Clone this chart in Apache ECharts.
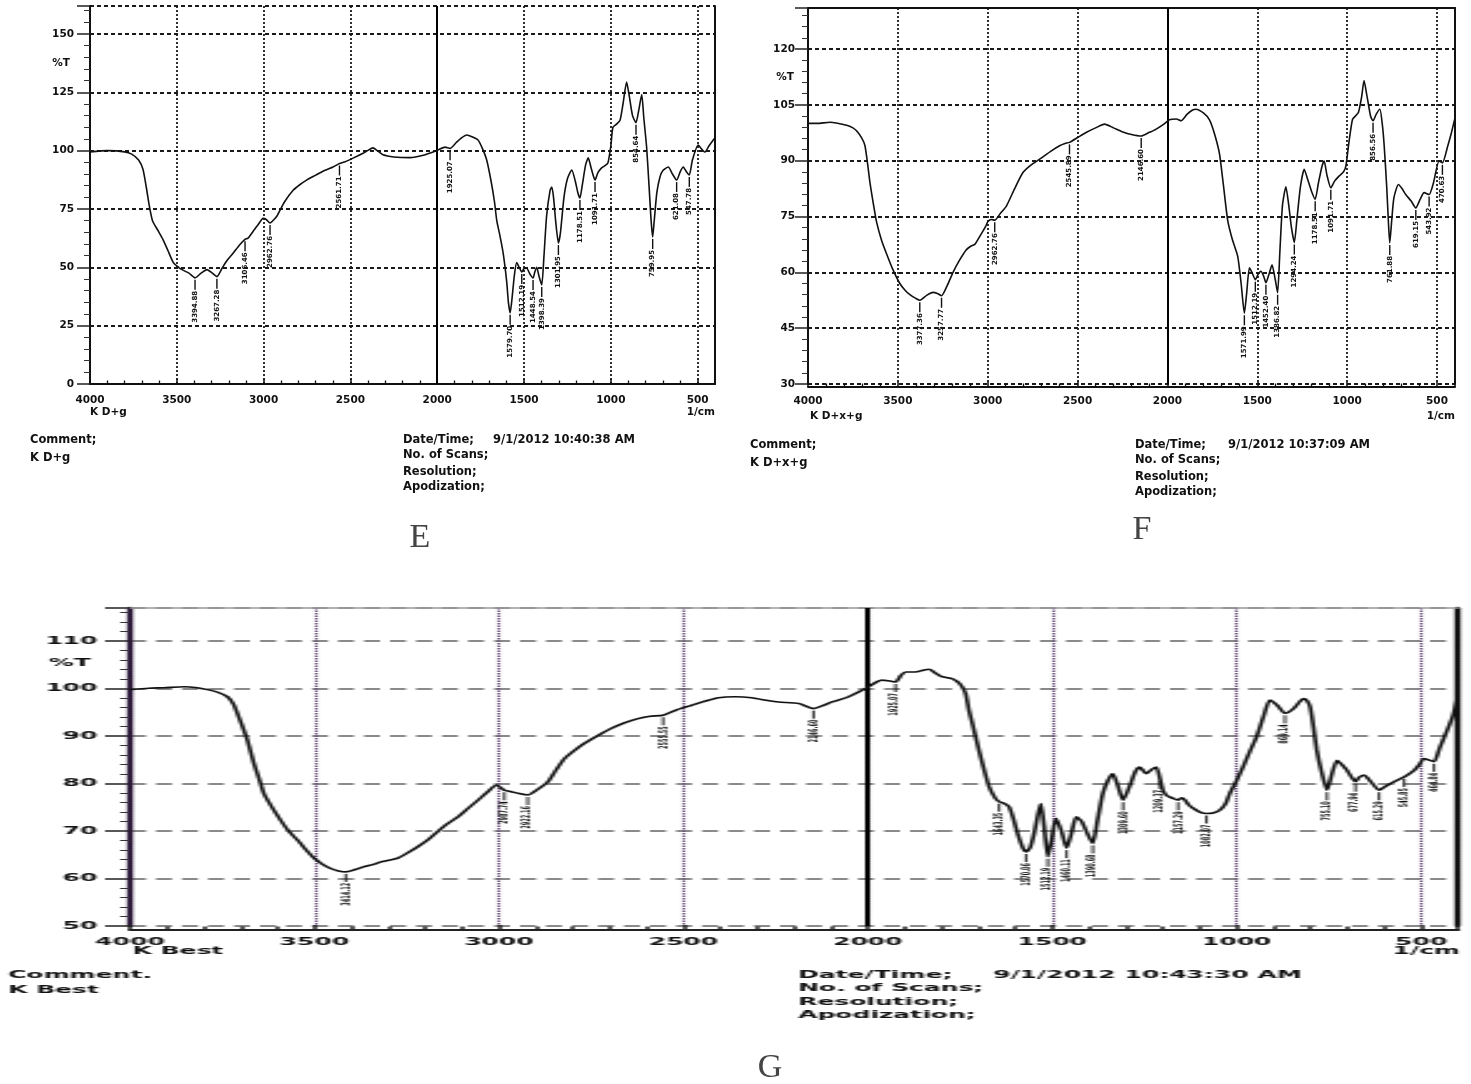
<!DOCTYPE html>
<html><head><meta charset="utf-8">
<script src="https://cdn.jsdelivr.net/npm/echarts@6/dist/echarts.min.js"></script>
<style>
html,body{margin:0;padding:0;background:#fff;}
#main{position:absolute;left:0;top:0;width:1471px;height:1084px;}
#g{position:absolute;left:0;top:590px;width:589px;height:494px;transform:scaleX(2.5);transform-origin:0 0;}
</style></head><body>
<div id="main"></div><div id="g"></div>
<script>
// ---------- data ----------
const xTickValues = [4000, 3500, 3000, 2500, 2000, 1500, 1000, 500];
const yTicksE = [0, 25, 50, 75, 100, 125, 150];
const yTicksF = [30, 45, 60, 75, 90, 105, 120];
const yTicksG = [50, 60, 70, 80, 90, 100, 110];
const breakValue = 2000;

const specE = [[4000,99.5],[3900,100],[3800,99.5],[3760,98.5],[3720,96],[3695,92],[3675,84],[3660,77],[3640,70],[3610,66],[3580,62],[3550,57],[3520,52],[3490,50],[3470,49],[3430,47.5],[3395,45.5],[3360,47.5],[3326,49],[3295,47.5],[3269,46],[3240,49.5],[3210,53],[3176,56],[3140,59.5],[3107,62],[3090,62.5],[3060,65.5],[3030,68.5],[3003,71],[2985,70.5],[2963,69],[2940,70.5],[2923,72],[2880,78],[2830,83],[2790,85.5],[2750,87.5],[2700,89.5],[2650,91.5],[2600,93],[2563,94.5],[2530,95.3],[2485,96.8],[2430,98.8],[2390,100.5],[2370,101.2],[2345,100],[2312,98.2],[2250,97.3],[2157,97],[2080,98],[2013,99.7],[1990,100.5],[1955,101.5],[1926,101],[1890,103.5],[1860,105.5],[1830,106.7],[1800,106],[1765,104.6],[1740,101],[1715,96],[1690,87],[1670,78],[1657,70],[1640,64],[1620,56],[1600,44],[1590,35],[1580,30.5],[1570,36],[1555,47],[1542,52],[1528,50],[1513,48],[1500,49.5],[1485,49.6],[1465,47],[1448,45.4],[1438,48],[1427,50],[1413,46],[1398,42.4],[1385,55],[1370,72],[1350,83],[1340,84.4],[1330,80],[1318,70],[1302,60.4],[1290,65],[1270,80],[1250,88],[1225,91.7],[1205,87],[1190,82],[1178,79.7],[1165,85],[1145,94],[1130,96.9],[1115,93],[1100,89],[1091,87.4],[1075,90.5],[1053,92.6],[1035,93.5],[1017,94.7],[1000,102],[988,110],[965,111.5],[947,113],[930,120],[909,129.4],[895,124],[875,115],[855,112],[840,117],[822,124],[810,114],[794,101.6],[780,85],[768,70],[759,63],[750,70],[735,82],[717,88.7],[700,91.5],[669,93],[645,90],[621,87.4],[600,91],[583,93],[565,91],[548,89.6],[530,96],[497,102.4],[475,100.5],[459,99.4],[435,102],[410,104.6],[400,105.5]];

const specF = [[4000,100],[3950,100],[3878,100.3],[3785,99.5],[3750,98.8],[3730,98],[3700,96],[3683,94],[3668,89],[3655,84],[3635,78],[3618,73.4],[3590,68.5],[3563,65],[3530,61],[3489,57],[3460,55.2],[3433,54],[3400,53],[3378,52.5],[3340,53.8],[3305,54.6],[3280,54.3],[3257,53.7],[3225,56.5],[3193,60],[3160,63],[3120,66],[3095,67],[3072,67.5],[3040,70],[3010,72.5],[2998,73.7],[2980,74.2],[2961,74],[2930,75.8],[2896,77.8],[2850,82.5],[2804,86.8],[2760,88.8],[2711,90.4],[2650,92.5],[2600,94],[2570,94.6],[2545,94.9],[2500,96.2],[2455,97.5],[2400,98.8],[2350,99.8],[2300,98.8],[2248,97.7],[2200,97],[2146,96.6],[2100,97.6],[2065,98.4],[2020,99.8],[1989,101],[1950,101.2],[1924,100.7],[1890,102.5],[1860,103.6],[1841,103.8],[1800,102.8],[1767,101],[1740,97.5],[1711,92],[1690,84],[1665,74],[1640,69],[1609,64.3],[1590,57],[1572,49],[1560,54],[1544,61.2],[1530,60],[1511,58],[1495,59.5],[1480,60.3],[1465,59],[1452,57.2],[1435,59.5],[1418,62],[1400,58],[1387,54.5],[1375,65],[1360,78],[1341,83],[1325,78],[1310,72],[1294,68],[1280,74],[1260,83],[1239,87.7],[1220,85],[1200,82],[1178,79.6],[1160,84],[1140,88.5],[1128,89.9],[1112,86],[1091,82.7],[1070,84.5],[1044,85.9],[1020,87],[1007,88.6],[990,95],[970,101.1],[950,102.2],[937,103],[920,107],[906,111.5],[892,108],[870,102],[856,100.7],[838,102.5],[818,103.8],[805,100],[794,94],[780,83],[770,73],[763,67.9],[752,74],[740,80],[715,83.6],[695,82.5],[674,80.9],[645,79.2],[618,77.3],[595,79.5],[572,81.4],[544,80.9],[520,84],[489,89.9],[470,89.4],[440,94],[420,97.5],[400,101.5]];

const specG = [[4000,99.8],[3950,100.1],[3908,100.2],[3854,100.4],[3818,100.2],[3790,99.8],[3764,99.3],[3736,98.3],[3720,96.8],[3709,94.8],[3695,92],[3682,89.2],[3664,84.2],[3650,81],[3637,77.9],[3615,75],[3592,72.3],[3570,70],[3546,68.1],[3520,65.8],[3501,64.3],[3480,63.1],[3456,62.1],[3435,61.6],[3415,61.4],[3390,61.9],[3365,62.5],[3340,63],[3320,63.5],[3295,63.9],[3274,64.3],[3250,65.3],[3220,66.7],[3190,68.3],[3166,69.9],[3140,71.5],[3111,73],[3085,74.7],[3057,76.5],[3030,78.3],[3007,79.7],[2985,78.6],[2967,78.3],[2945,77.9],[2922,77.6],[2895,78.8],[2867,80.4],[2845,82.9],[2822,85.3],[2795,87],[2768,88.5],[2730,90.2],[2696,91.6],[2660,92.8],[2623,93.7],[2590,94.2],[2555,94.4],[2520,95.5],[2478,96.5],[2440,97.4],[2405,98.1],[2360,98.3],[2315,98.1],[2280,97.6],[2242,97.2],[2188,96.9],[2147,95.8],[2120,96.5],[2097,97.2],[2052,98.3],[2007,100],[1962,101.8],[1940,101.6],[1925,101.4],[1910,102.8],[1898,103.5],[1871,103.5],[1850,103.9],[1834,104.1],[1815,103.2],[1802,102.6],[1771,102.1],[1750,101],[1735,99],[1726,95.5],[1716,92.5],[1699,87.1],[1685,83],[1671,79.3],[1655,77],[1644,76.2],[1630,75.8],[1617,75.1],[1605,72.5],[1594,69.5],[1580,66.5],[1571,65.6],[1560,66.5],[1549,69.5],[1540,73],[1531,75.8],[1522,71],[1512,64.6],[1502,68],[1490,72.7],[1475,70],[1461,66.4],[1448,69.5],[1435,73],[1420,72],[1405,69.5],[1390,67.4],[1378,72],[1363,77.9],[1350,80.5],[1336,82.1],[1322,79.5],[1308,76.5],[1290,79.5],[1275,82.5],[1263,83.5],[1245,82.1],[1230,83],[1218,83.5],[1208,81],[1200,78.6],[1190,77.5],[1182,77.2],[1170,76.8],[1159,76.5],[1150,77],[1141,76.6],[1130,75.5],[1118,74.8],[1100,74],[1082,73.7],[1064,73.8],[1046,74.4],[1030,75.8],[1019,77.9],[1000,80.7],[983,83.5],[965,86.7],[946,89.9],[928,94],[910,97.6],[890,96.5],[869,94.8],[846,95.8],[830,97.2],[819,97.9],[810,97.5],[801,96.2],[792,92],[783,87.1],[770,82.5],[755,78.6],[742,82],[728,84.9],[715,84],[701,82.8],[690,81.5],[678,80.4],[668,81.3],[655,81.8],[635,80.3],[614,78.6],[595,79.5],[573,80.4],[546,81.4],[519,82.8],[505,84],[492,85.3],[480,85],[465,84.6],[450,87.5],[429,91.3],[413,94.5],[400,98.5]];

const peaksE = [[3395,45.5,'3394.88'],[3269,46,'3267.28'],[3107,62,'3106.46'],[2963,69,'2962.76'],[2563,94.5,'2561.71'],[1926,101,'1925.07'],[1580,30.5,'1579.70'],[1513,48,'1512.19'],[1448,45.4,'1448.54'],[1398,42.4,'1398.39'],[1302,60.4,'1301.95'],[1178,79.7,'1178.51'],[1091,87.4,'1091.71'],[855,112,'854.64'],[759,63,'759.95'],[621,87.4,'621.08'],[548,89.6,'547.78']];
const peaksF = [[3378,52.5,'3377.36'],[3257,53.7,'3257.77'],[2961,74,'2962.76'],[2545,94.9,'2545.89'],[2146,96.6,'2146.60'],[1572,49,'1571.99'],[1511,58,'1512.19'],[1452,57.2,'1452.40'],[1387,54.5,'1386.82'],[1294,68,'1294.24'],[1178,79.6,'1178.51'],[1091,82.7,'1091.71'],[856,100.7,'856.56'],[763,67.9,'761.88'],[618,77.3,'619.15'],[544,80.9,'543.92'],[470,89.4,'470.63']];
const peaksG = [[3415,61.4,'3414.12'],[2985,78.6,'2987.74'],[2922,77.6,'2922.16'],[2555,94.4,'2555.55'],[2147,95.8,'2146.60'],[1925,101.4,'1925.07'],[1644,76.2,'1643.35'],[1571,65.6,'1570.06'],[1512,64.6,'1512.19'],[1461,66.4,'1460.11'],[1390,67.4,'1390.68'],[1308,76.5,'1309.60'],[1208,81,'1209.37'],[1159,76.5,'1157.29'],[1082,73.7,'1082.07'],[869,94.8,'869.14'],[755,78.6,'755.10'],[678,80.4,'677.94'],[614,78.6,'615.29'],[546,81.4,'545.85'],[465,84.6,'464.84']];

const textE = {sample:'K D+g', date:'9/1/2012 10:40:38 AM', caption:'E'};
const textF = {sample:'K D+x+g', date:'9/1/2012 10:37:09 AM', caption:'F'};
const textG = {sample:'K Best', date:'9/1/2012 10:43:30 AM', caption:'G'};

// ---------- helpers ----------
const FONT = '"DejaVu Sans", "Liberation Sans", sans-serif';
const tickFmt = arr => v => (arr.indexOf(v) >= 0 ? String(v) : '');

function panelAxes(gi, ymin, ymax, yint, yTicks, o) {
  const xa = {
    gridIndex: gi, type: 'value', min: 400, max: 4000, inverse: true,
    splitNumber: 7, minInterval: 500, maxInterval: 500, offset: o.xOffset,
    axisLine: {show: true, lineStyle: {color: o.axisColor, width: 2}},
    axisTick: {show: true, inside: true, length: 5, lineStyle: {color: o.axisColor, width: 1.5}},
    minorTick: {show: true, splitNumber: 5, length: 3.5, lineStyle: {color: o.axisColor, width: o.minorW}},
    axisLabel: {margin: o.xMargin, fontSize: o.fs, fontWeight: 'bold', fontFamily: FONT, color: '#111',
      showMinLabel: false, showMaxLabel: true, formatter: tickFmt(xTickValues)},
    splitLine: {show: true, lineStyle: o.vLine}
  };
  const xTop = {
    gridIndex: gi, type: 'value', position: 'top', min: 400, max: 4000, inverse: true,
    axisLine: {show: true, lineStyle: {color: o.topColor, width: o.topW}},
    axisTick: {show: false}, axisLabel: {show: false}, splitLine: {show: false}
  };
  const ya = {
    gridIndex: gi, type: 'value', min: ymin, max: ymax, interval: yint,
    axisLine: {show: true, lineStyle: {color: o.leftColor, width: o.leftW}},
    axisTick: {show: true, inside: false, length: o.yTickLen, lineStyle: {color: '#222', width: 1.5}},
    minorTick: {show: true, splitNumber: 5, length: o.yMinorLen, lineStyle: {color: '#333', width: 1}},
    axisLabel: {margin: o.yMargin, fontSize: o.fs, fontWeight: 'bold', fontFamily: FONT, color: '#111',
      showMaxLabel: false, formatter: tickFmt(yTicks)},
    splitLine: {show: true, lineStyle: o.hLine}
  };
  const yRight = {
    gridIndex: gi, type: 'value', position: 'right', min: ymin, max: ymax,
    axisLine: {show: true, lineStyle: {color: '#111', width: o.rightW}},
    axisTick: {show: false}, axisLabel: {show: false}, splitLine: {show: false}
  };
  return {xa, xTop, ya, yRight};
}

function curveSeries(xi, yi, data, lw, breakW) {
  return {
    type: 'line', xAxisIndex: xi, yAxisIndex: yi, data: data, showSymbol: false,
    smooth: 0.2, lineStyle: {color: '#111', width: lw}, silent: true, z: 5,
    markLine: {symbol: 'none', silent: true, label: {show: false},
      lineStyle: {color: '#000', width: breakW, type: 'solid'}, data: [{xAxis: breakValue}]}
  };
}
// peak markers: a short leader below the trough and the rotated wavenumber label
function peakSeries(xi, yi, peaks, fs, lw, gap, len) {
  const font = 'bold ' + fs + 'px ' + FONT;
  return {
    type: 'custom', xAxisIndex: xi, yAxisIndex: yi, silent: true, z: 6, clip: false,
    data: peaks.map(p => [p[0], p[1]]),
    renderItem: function (params, api) {
      const pt = api.coord([api.value(0), api.value(1)]);
      const lab = peaks[params.dataIndex][2];
      return {type: 'group', children: [
        {type: 'line', shape: {x1: pt[0], y1: pt[1] + gap, x2: pt[0], y2: pt[1] + gap + len},
          style: {stroke: '#111', lineWidth: lw}},
        {type: 'text', x: pt[0], y: pt[1] + gap + len + 1, rotation: Math.PI / 2,
          style: {text: lab, font: font, fill: '#111', align: 'right', verticalAlign: 'middle'}}
      ]};
    }
  };
}
function txt(x, y, s, font, align, fill) {
  return {type: 'text', x: x, y: y, silent: true,
    style: {text: s, font: font, fill: fill || '#111', align: align || 'left', verticalAlign: 'middle'}};
}

// ---------- main chart (E, F) ----------
const main = echarts.init(document.getElementById('main'), null, {renderer: 'canvas'});
const efOpt = {
  xOffset: 3, axisColor: '#111', minorW: 1.3, xMargin: 8, fs: 10.5,
  vLine: {color: '#1a1a1a', width: 1.8, type: [2, 2]},
  hLine: {color: '#1a1a1a', width: 2.2, type: [4, 3]},
  topColor: '#111', topW: 2, leftColor: '#111', leftW: 2, rightW: 2,
  yTickLen: 13, yMinorLen: 6, yMargin: 16
};
const aE = panelAxes(0, 0, 162, 25, yTicksE, efOpt);
const aF = panelAxes(1, 30, 131, 15, yTicksF, Object.assign({}, efOpt, {xMargin: 9, yMargin: 13}));

const F11 = 'bold 11.5px ' + FONT;
const F10 = 'bold 10.5px ' + FONT;
const SERIF = '34px "Liberation Serif", "DejaVu Serif", serif';

main.setOption({
  animation: false,
  backgroundColor: '#fff',
  grid: [
    {left: 90, top: 6, width: 625, height: 378},
    {left: 808, top: 8, width: 647, height: 376}
  ],
  xAxis: [aE.xa, aE.xTop, aF.xa, aF.xTop],
  yAxis: [aE.ya, aE.yRight, aF.ya, aF.yRight],
  series: [
    curveSeries(0, 0, specE, 1.6, 2),
    peakSeries(0, 0, peaksE, 7, 1.4, 2, 10),
    curveSeries(2, 2, specF, 1.6, 2),
    peakSeries(2, 2, peaksF, 7, 1.4, 2, 10)
  ],
  graphic: [
    txt(61, 63, '%T', F10, 'center'),
    txt(90, 412, textE.sample, F10),
    txt(715, 412, '1/cm', F10, 'right'),
    txt(30, 440, 'Comment;', F11),
    txt(30, 458, textE.sample, F11),
    txt(403, 440, 'Date/Time;', F11),
    txt(493, 440, textE.date, F11),
    txt(403, 455, 'No. of Scans;', F11),
    txt(403, 472, 'Resolution;', F11),
    txt(403, 487, 'Apodization;', F11),
    txt(420, 538, textE.caption, SERIF, 'center', '#444'),

    txt(785, 77, '%T', F10, 'center'),
    txt(810, 416, textF.sample, F10),
    txt(1455, 416, '1/cm', F10, 'right'),
    txt(750, 445, 'Comment;', F11),
    txt(750, 463, textF.sample, F11),
    txt(1135, 445, 'Date/Time;', F11),
    txt(1228, 445, textF.date, F11),
    txt(1135, 460, 'No. of Scans;', F11),
    txt(1135, 477, 'Resolution;', F11),
    txt(1135, 492, 'Apodization;', F11),
    txt(1142, 530, textF.caption, SERIF, 'center', '#444'),

    txt(770, 1068, textG.caption, SERIF, 'center', '#444')
  ]
});

// ---------- G chart (drawn in a horizontally stretched box) ----------
const gc = echarts.init(document.getElementById('g'), null, {renderer: 'canvas'});
const gOpt = {
  xOffset: 4, axisColor: '#222', minorW: 1.5, xMargin: 7, fs: 10,
  vLine: {color: '#6b4f7d', width: 1.2, type: [1.5, 1]},
  hLine: {color: '#8a8a8a', width: 2.2, type: [6.4, 4]},
  topColor: '#9a9a9a', topW: 1.5, leftColor: '#2d1a3b', leftW: 2.4, rightW: 2.4,
  yTickLen: 10, yMinorLen: 4, yMargin: 13
};
const aG = panelAxes(0, 50, 117, 10, yTicksG, gOpt);
const FG = 'bold 10px ' + FONT;
gc.setOption({
  animation: false,
  grid: [{left: 52, top: 18, width: 531.2, height: 318}],
  xAxis: [aG.xa, aG.xTop],
  yAxis: [aG.ya, aG.yRight],
  series: [
    curveSeries(0, 0, specG, 1.6, 2),
    peakSeries(0, 0, peaksG, 5, 0.9, 2, 8)
  ],
  graphic: [
    txt(28, 73, '%T', FG, 'center'),
    txt(53, 361, textG.sample, FG),
    txt(584, 361, '1/cm', FG, 'right'),
    txt(3.2, 385, 'Comment.', FG),
    txt(3.2, 400, textG.sample, FG),
    txt(319.2, 385, 'Date/Time;', FG),
    txt(397.2, 385, textG.date, FG),
    txt(319.2, 398, 'No. of Scans;', FG),
    txt(319.2, 412, 'Resolution;', FG),
    txt(319.2, 425, 'Apodization;', FG)
  ]
});
</script>
</body></html>
